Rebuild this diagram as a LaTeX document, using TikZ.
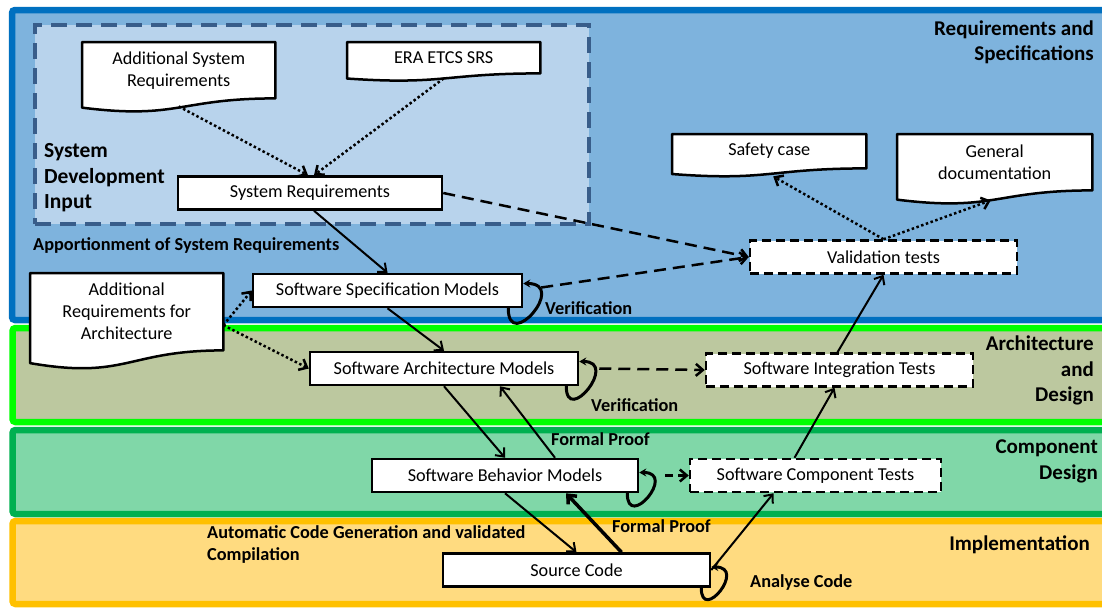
\documentclass[tikz,border=0pt]{standalone}
\usepackage{fontspec}
\setmainfont{Carlito}
\usetikzlibrary{arrows.meta,calc}

\definecolor{reqline}{HTML}{0070C0}
\definecolor{reqfill}{HTML}{7EB3DD}
\definecolor{sdiline}{HTML}{385D8A}
\definecolor{sdifill}{HTML}{B8D3EC}
\definecolor{archline}{HTML}{00FF00}
\definecolor{archfill}{HTML}{BCC89F}
\definecolor{compline}{HTML}{00B050}
\definecolor{compfill}{HTML}{80D7A8}
\definecolor{implline}{HTML}{FFC000}
\definecolor{implfill}{HTML}{FFDB80}

\begin{document}
\begin{tikzpicture}[x=1pt,y=-1pt,
  model/.style={draw, line width=2.5pt, fill=white, inner sep=0pt, minimum height=33pt, font=\fontsize{18.2}{22}\selectfont},
  testbox/.style={model, dash pattern=on 9pt off 5pt},
  docbox/.style={fill=white, inner sep=0pt, align=center, anchor=north west, font=\fontsize{18.2}{22}\selectfont},
  band/.style={line width=6.5pt, rounded corners=3pt},
  lbl/.style={inner sep=0pt, anchor=west, align=left, font=\bfseries\fontsize{18.3}{22}\selectfont},
  title/.style={inner sep=0pt, align=right, anchor=east, font=\bfseries\fontsize{21}{25.5}\selectfont},
  flow/.style={line width=2pt, -{Straight Barb[length=7pt,width=12pt]}},
  dashflow/.style={flow, line width=2.5pt, dash pattern=on 12pt off 7pt},
  dotflow/.style={flow, line width=2.5pt, dash pattern=on 2.5pt off 2.5pt},
  selfloop/.style={line width=3pt, line cap=round, -{Stealth[length=7pt,width=8pt]}}
]
\useasboundingbox (0,0) rectangle (1102,608);
\clip (0,0) rectangle (1102,608);

% bands
\draw[band, draw=reqline, fill=reqfill] (12,10) rectangle (1120,320);
\draw[band, draw=archline, fill=archfill] (12.5,328) rectangle (1120,422);
\draw[band, draw=compline, fill=compfill] (12.5,430) rectangle (1120,514);
\draw[band, draw=implline, fill=implfill] (12.5,521) rectangle (1120,604);

\node (sdi) [draw=sdiline, fill=sdifill, line width=4pt, dash pattern=on 16pt off 9pt,
  minimum width=554pt, minimum height=199pt, anchor=north west] at (33,23) {};

% documents
\node (addsys) [docbox, minimum width=193pt, minimum height=56pt] at (82,42) {Additional System\\Requirements};
\node (era) [docbox, minimum width=193pt, minimum height=31pt] at (347,42) {ERA ETCS SRS};
\node (safety) [docbox, minimum width=194pt, minimum height=34pt] at (672,134) {Safety case};
\node (gendoc) [docbox, minimum width=195pt, minimum height=56pt] at (897,134) {General\\documentation};
\node (addarch) [docbox, minimum width=193pt, minimum height=77pt] at (30,273) {Additional\\Requirements for\\Architecture};
\foreach \n/\h in {addsys/56, era/31, safety/34, gendoc/56, addarch/77} {
  \fill[white] ([yshift=2pt]\n.south east) -- (\n.south east) .. controls (\n.south) and ($(\n.south)+(0,0.382*\h)$) .. ($(\n.south west)+(0,0.165*\h)$) -- ([yshift=2pt]\n.south west) -- cycle;
  \draw[line width=2.5pt, line join=round] (\n.south west) -- (\n.north west) -- (\n.north east) -- (\n.south east)
    .. controls (\n.south) and ($(\n.south)+(0,0.382*\h)$) .. ($(\n.south west)+(0,0.165*\h)$) -- cycle;
}

% models and tests
\node (sysreq) [model, minimum width=264pt] at (310,193) {System Requirements};
\node (spec) [model, minimum width=269pt] at (387.5,290.5) {Software Specification Models};
\node (arch) [model, minimum width=268pt] at (444,368.5) {Software Architecture Models};
\node (behav) [model, minimum width=266pt] at (505,475.5) {Software Behavior Models};
\node (src) [model, minimum width=267pt] at (576.5,570) {Source Code};
\node (valid) [testbox, minimum width=267pt] at (883.5,257) {Validation tests};
\node (integ) [testbox, minimum width=267pt] at (839.5,370) {Software Integration Tests};
\node (comp) [testbox, minimum width=251pt] at (815.5,475.5) {Software Component Tests};

% labels
\node (reqtitle) [title] at (1094,42.5) {Requirements and\\Specifications};
\node (archtitle) [title] at (1094,370.5) {Architecture\\and\\Design};
\node (comptitle) [title] at (1098,461.5) {Component\\Design};
\node (impltitle) [title] at (1090,545) {Implementation};
\node (sditext) [lbl, font=\bfseries\fontsize{21.5}{25.5}\selectfont] at (44,178) {System\\Development\\Input};
\node (apport) [lbl] at (33,246) {Apportionment of System Requirements};
\node (verspec) [lbl] at (545,308) {Verification};
\node (verarch) [lbl] at (591,405) {Verification};
\node (proofarch) [lbl] at (551,439) {Formal Proof};
\node (proofsrc) [lbl] at (612,526) {Formal Proof};
\node (autogen) [lbl] at (207,544.5) {Automatic Code Generation and validated\\Compilation};
\node (analyse) [lbl] at (750,583) {Analyse Code};

% connectors
\draw[dotflow] ([yshift=-8pt]addsys.south) -- ([xshift=-2pt]sysreq.north);
\draw[dotflow] ([yshift=-5pt]era.south) -- ([xshift=4pt]sysreq.north);
\draw[dotflow] ([yshift=-13.5pt]addarch.east) -- (spec.west);
\draw[dotflow] ([yshift=-13.5pt]addarch.east) -- (arch.west);
\draw[dotflow] (valid.north) -- ([xshift=4pt,yshift=-8pt]safety.south);
\draw[dotflow] (valid.north) -- ([xshift=-4pt,yshift=-10pt]gendoc.south);

\draw[dashflow] (sysreq.east) -- (valid.west);
\draw[dashflow] ([xshift=18pt,yshift=3pt]spec.east) -- (valid.west);
\draw[dashflow] ([xshift=20pt]arch.east) -- (integ.west);
\draw[dashflow, dash pattern=on 8pt off 5pt] ([xshift=26pt]behav.east) -- (comp.west);

\draw[flow] ([xshift=4pt]sysreq.south) -- (spec.north);
\draw[flow] (spec.south) -- (arch.north);
\draw[flow] (arch.south) -- (behav.north);
\draw[flow] ([xshift=50pt]behav.north) -- ([xshift=56pt]arch.south);
\draw[flow] (behav.south) -- (src.north);
\draw[flow, line width=3.5pt] ([xshift=45pt]src.north) -- ([xshift=61pt]behav.south);
\draw[flow] (src.east) -- ([xshift=-42pt]comp.south);
\draw[flow] ([xshift=-21pt]comp.north) -- ([xshift=-5pt]integ.south);
\draw[flow] ([xshift=-2pt]integ.north) -- (valid.south);

\draw[selfloop] ([xshift=-15pt]spec.south east) .. controls +(0,45) and +(45,0) .. ([yshift=7pt]spec.east);
\draw[selfloop] ([xshift=-13pt]arch.south east) .. controls +(0,40) and +(40,0) .. ([yshift=7pt]arch.east);
\draw[selfloop] ([xshift=-12pt]behav.south east) .. controls +(0,38) and +(38,0) .. ([yshift=3pt]behav.east);
\draw[selfloop] ([xshift=-10pt]src.south east) .. controls +(0,36) and +(36,0) .. ([yshift=3pt]src.east);
\end{tikzpicture}
\end{document}
